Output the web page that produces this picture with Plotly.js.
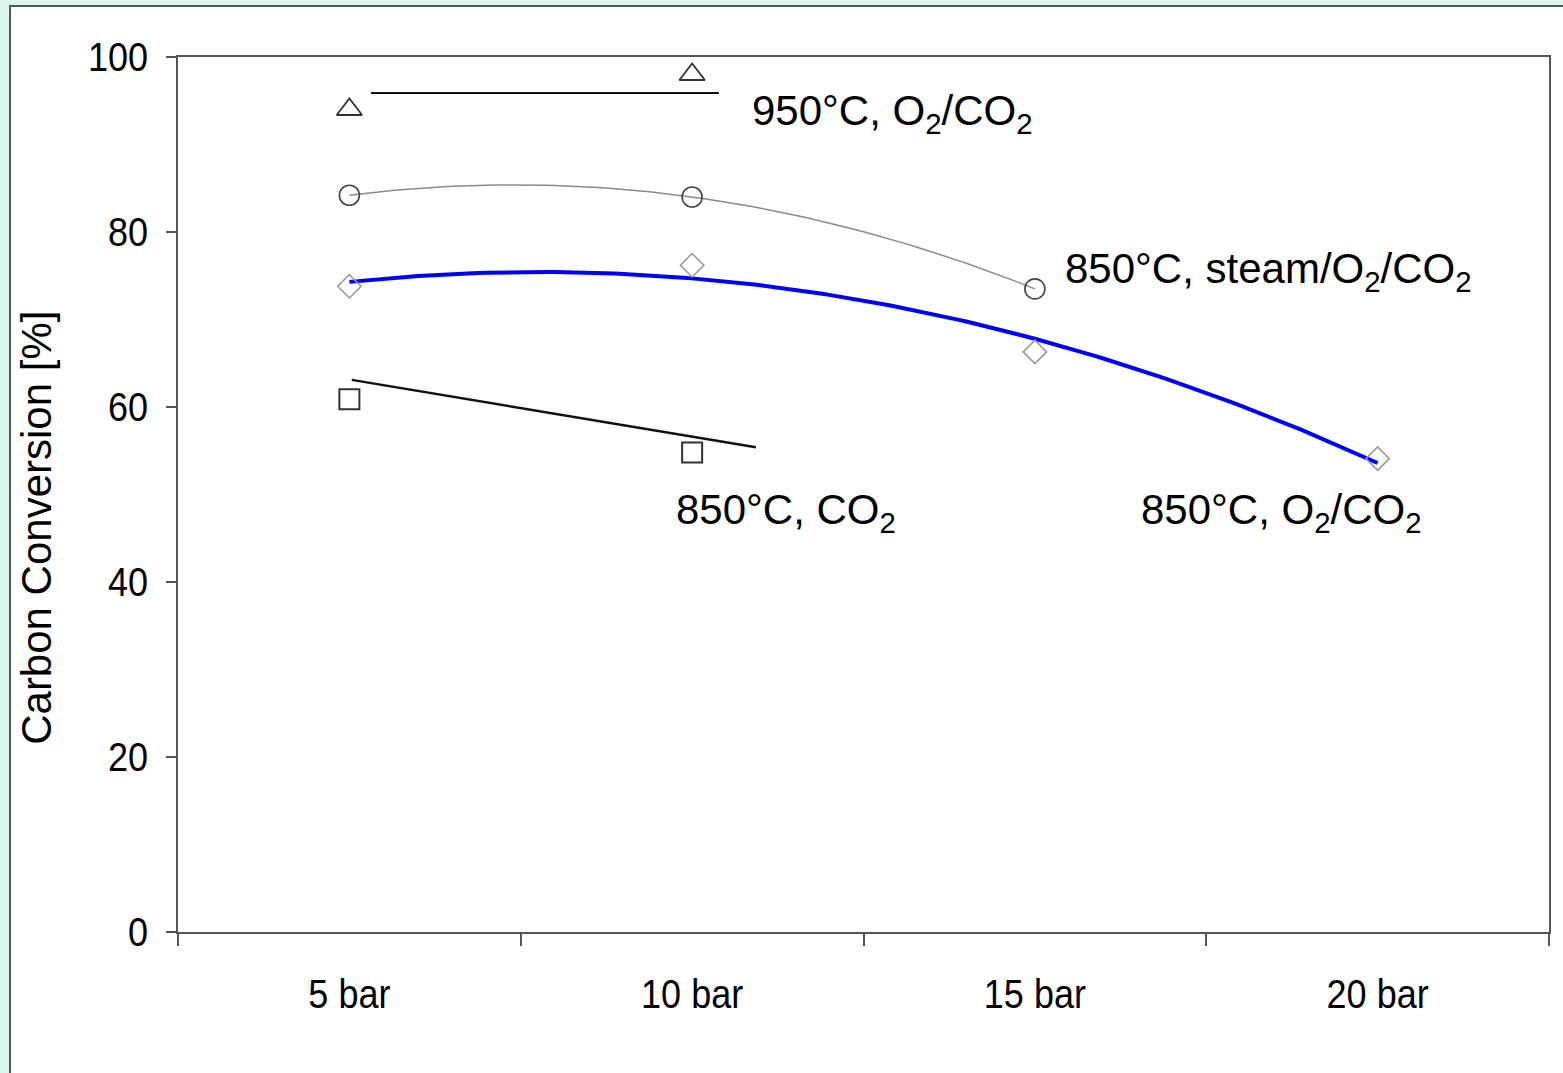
<!DOCTYPE html>
<html>
<head>
<meta charset="utf-8">
<script src="https://cdn.plot.ly/plotly-3.0.1.min.js"></script>
<style>
  html, body { margin: 0; padding: 0; background: #ddf5ef; }
  #chart { width: 1563px; height: 1073px; }
</style>
</head>
<body>
<div id="chart"></div>
<script>
// Pressure categories on the x axis
const pressureLabels = ['5 bar', '10 bar', '15 bar', '20 bar'];
const pressurePos = [1, 2, 3, 4];

// Carbon conversion [%] for each gasification condition
const conv950_O2CO2 = [94.0, 98.0];                 // 950°C, O2/CO2 (5, 10 bar)
const conv850_steamO2CO2 = [84.2, 84.0, 73.5];      // 850°C, steam/O2/CO2 (5, 10, 15 bar)
const conv850_O2CO2 = [73.8, 76.2, 66.3, 54.1];     // 850°C, O2/CO2 (5-20 bar)
const conv850_CO2 = [60.9, 54.8];                   // 850°C, CO2 (5, 10 bar)

// Guide lines drawn alongside the sparse series (start / end points)
const guide950X = [1.063, 2.078];
const guide950Y = [95.9, 95.9];
const guideCO2X = [1.007, 2.186];
const guideCO2Y = [63.1, 55.4];

// Least-squares quadratic trend evaluated across the measured range
function quadTrend(xs, ys, n) {
  let S = [0, 0, 0, 0, 0], T = [0, 0, 0];
  for (let i = 0; i < xs.length; i++) {
    let p = 1;
    for (let k = 0; k < 5; k++) { S[k] += p; if (k < 3) T[k] += p * ys[i]; p *= xs[i]; }
  }
  // Solve the 3x3 normal equations (Cramer's rule)
  const A = [[S[0], S[1], S[2]], [S[1], S[2], S[3]], [S[2], S[3], S[4]]];
  const det = m => m[0][0]*(m[1][1]*m[2][2]-m[1][2]*m[2][1]) - m[0][1]*(m[1][0]*m[2][2]-m[1][2]*m[2][0]) + m[0][2]*(m[1][0]*m[2][1]-m[1][1]*m[2][0]);
  const D = det(A);
  const c = [0, 1, 2].map(j => det(A.map((row, r) => row.map((v, col) => col === j ? T[r] : v))) / D);
  const x0 = xs[0], x1 = xs[xs.length - 1];
  const tx = [], ty = [];
  for (let i = 0; i <= n; i++) {
    const x = x0 + (x1 - x0) * i / n;
    tx.push(x); ty.push(c[0] + c[1] * x + c[2] * x * x);
  }
  return { x: tx, y: ty };
}

const trendSteam = quadTrend(pressurePos.slice(0, 3), conv850_steamO2CO2, 80);
const trendO2CO2 = quadTrend(pressurePos, conv850_O2CO2, 120);

const sans = '"Liberation Sans", Arial, sans-serif';

const traces = [
  { x: trendSteam.x, y: trendSteam.y, mode: 'lines', line: { color: '#8a8a8a', width: 1.5 }, hoverinfo: 'skip' },
  { x: trendO2CO2.x, y: trendO2CO2.y, mode: 'lines', line: { color: '#0000ff', width: 4 }, hoverinfo: 'skip' },
  { x: guide950X, y: guide950Y, mode: 'lines', line: { color: '#111', width: 2 }, hoverinfo: 'skip' },
  { x: guideCO2X, y: guideCO2Y, mode: 'lines', line: { color: '#111', width: 2.5 }, hoverinfo: 'skip' },
  { x: pressurePos.slice(0, 2), y: conv950_O2CO2, mode: 'markers', name: '950°C, O2/CO2',
    marker: { symbol: 'triangle-up-open', size: 22, color: '#333', line: { width: 1.8 } } },
  { x: pressurePos.slice(0, 3), y: conv850_steamO2CO2, mode: 'markers', name: '850°C, steam/O2/CO2',
    marker: { symbol: 'circle-open', size: 20, color: '#444', line: { width: 1.6 } } },
  { x: pressurePos, y: conv850_O2CO2, mode: 'markers', name: '850°C, O2/CO2',
    marker: { symbol: 'diamond-open', size: 18, color: '#999', line: { width: 1.6 } } },
  { x: pressurePos.slice(0, 2), y: conv850_CO2, mode: 'markers', name: '850°C, CO2',
    marker: { symbol: 'square-open', size: 20, color: '#333', line: { width: 2 } } }
];

const labelFont = { family: sans, size: 42, color: '#000' };

const layout = {
  width: 1563, height: 1073,
  margin: { l: 178, r: 14, t: 57, b: 141 },
  paper_bgcolor: 'rgba(0,0,0,0)',
  plot_bgcolor: '#ffffff',
  showlegend: false,
  xaxis: {
    range: [0.5, 4.5], tickvals: pressurePos, ticktext: pressureLabels,
    ticks: '', showgrid: false, zeroline: false,
    showline: true, mirror: true, linecolor: '#555', linewidth: 2,
    tickfont: { family: sans, size: 40, color: '#000' }, ticklabelstandoff: 26
  },
  xaxis2: {
    range: [0.5, 4.5], overlaying: 'x', anchor: 'y', side: 'bottom',
    tickvals: [0.5, 1.5, 2.5, 3.5, 4.5], showticklabels: false,
    ticks: 'outside', ticklen: 13, tickwidth: 2, tickcolor: '#555',
    showgrid: false, zeroline: false, showline: false
  },
  yaxis: {
    range: [0, 100], tickvals: [0, 20, 40, 60, 80, 100],
    ticks: 'outside', ticklen: 10, tickwidth: 2, tickcolor: '#555',
    showgrid: false, zeroline: false,
    showline: true, mirror: true, linecolor: '#555', linewidth: 2,
    tickfont: { family: sans, size: 40, color: '#000' }, ticklabelstandoff: 10
  },
  shapes: [
    // white panel with dark frame behind the chart
    { type: 'rect', xref: 'paper', yref: 'paper', layer: 'below',
      x0: -0.1225, x1: 1.05, y0: -0.2, y1: 1.0583,
      fillcolor: '#ffffff', line: { color: '#555', width: 2 } }
  ],
  annotations: [
    { text: 'Carbon Conversion [%]', xref: 'paper', yref: 'paper', x: -0.1028, y: 0.462,
      xanchor: 'center', yanchor: 'middle',
      textangle: -90, showarrow: false, font: { family: sans, size: 42, color: '#000' } },
    { text: '950°C, O<sub>2</sub>/CO<sub>2</sub>', x: 2.169, y: 93.6, xanchor: 'left', yanchor: 'middle',
      showarrow: false, font: labelFont },
    { text: '850°C, steam/O<sub>2</sub>/CO<sub>2</sub>', x: 3.082, y: 75.5, xanchor: 'left', yanchor: 'middle',
      showarrow: false, font: labelFont },
    { text: '850°C, CO<sub>2</sub>', x: 1.947, y: 47.9, xanchor: 'left', yanchor: 'middle',
      showarrow: false, font: labelFont },
    { text: '850°C, O<sub>2</sub>/CO<sub>2</sub>', x: 3.304, y: 47.9, xanchor: 'left', yanchor: 'middle',
      showarrow: false, font: labelFont }
  ]
};

traces.forEach(t => { t.xaxis = 'x'; t.yaxis = 'y'; });
traces.push({ x: [1], y: [-10], xaxis: 'x2', yaxis: 'y', mode: 'markers', marker: { opacity: 0 }, hoverinfo: 'skip' });

// Slightly condensed tick lettering: narrow horizontally (screen space) about a fixed edge
const NARROW = 0.9;
function narrowText(el, edge) {
  const svg = el.ownerSVGElement;
  const parent = el.parentNode;
  const r = el.getBoundingClientRect();
  if (!r.width) return;
  const sx = edge === 'left' ? r.left : edge === 'right' ? r.right : (r.left + r.right) / 2;
  const M = parent.getScreenCTM();
  const S = svg.createSVGMatrix();
  S.a = NARROW; S.b = 0; S.c = 0; S.d = 1; S.e = sx * (1 - NARROW); S.f = 0;
  const T = M.inverse().multiply(S).multiply(M);
  const g = document.createElementNS('http://www.w3.org/2000/svg', 'g');
  g.setAttribute('transform', `matrix(${T.a} ${T.b} ${T.c} ${T.d} ${T.e} ${T.f})`);
  parent.insertBefore(g, el);
  g.appendChild(el);
}

Plotly.newPlot('chart', traces, layout, { displayModeBar: false, staticPlot: true }).then(gd => {
  gd.querySelectorAll('.ytick text').forEach(t => narrowText(t, 'right'));
  gd.querySelectorAll('.xtick text').forEach(t => narrowText(t, 'center'));
});
</script>
</body>
</html>
